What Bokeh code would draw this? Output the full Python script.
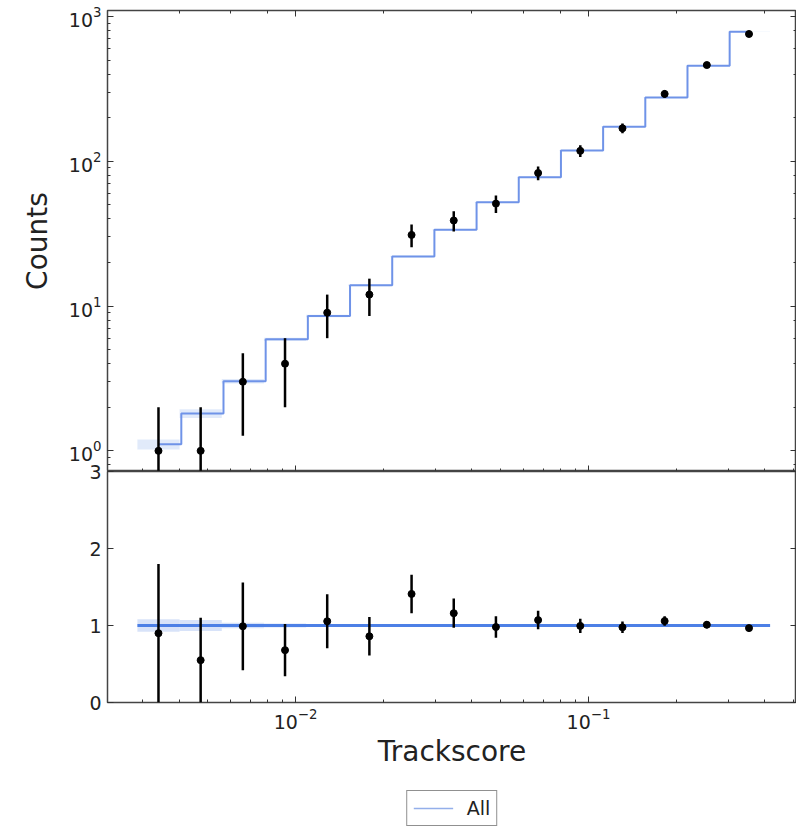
import numpy as np
from bokeh.plotting import figure
from bokeh.models import Range1d, LogAxis, LinearAxis, FixedTicker, Legend, LegendItem
from bokeh.layouts import column
from bokeh.embed import file_html
from bokeh.resources import INLINE

# ---------------- data ----------------
bin_edges = [0.002884, 0.004018, 0.005598, 0.007798, 0.010864, 0.015136, 0.021086,
             0.029376, 0.040926, 0.057016, 0.079433, 0.11066, 0.15417, 0.21478,
             0.29923, 0.41687]
bin_centers = [0.003404, 0.004742, 0.006607, 0.009204, 0.012823, 0.017865, 0.024889,
               0.034674, 0.048306, 0.067298, 0.093756, 0.13062, 0.18197, 0.25351,
               0.35318]
mc_counts = [1.11, 1.81, 3.03, 5.89, 8.53, 13.9, 22.0, 33.6, 52.1, 77.6, 118.6,
             173.0, 276.0, 457.0, 784.0]
mc_rel_unc = [0.08, 0.07, 0.035, 0.025, 0.02, 0.015, 0.012, 0.01, 0.008, 0.006,
              0.005, 0.004, 0.003, 0.002, 0.002]
data_counts = [1, 1, 3, 4, 9, 12, 31, 39, 51, 83, 118, 169, 292, 462, 757]
data_errors = [1.0, 1.0, 1.73, 2.0, 3.0, 3.46, 5.57, 6.24, 7.14, 9.11, 10.86,
               13.0, 17.09, 21.49, 27.51]
ratio = [0.90, 0.55, 0.99, 0.68, 1.055, 0.86, 1.41, 1.16, 0.98, 1.07, 0.995,
         0.977, 1.058, 1.01, 0.966]
ratio_errors = [0.90, 0.55, 0.57, 0.34, 0.35, 0.25, 0.25, 0.19, 0.14, 0.12, 0.092,
                0.075, 0.062, 0.047, 0.035]
ratio_ticks = [0, 1, 2, 3]
legend_label = "All"
x_label = "Trackscore"
y_label = "Counts"

# ---------------- styles ----------------
FONT = "DejaVu Sans"
STEP_COLOR = "#6f93e8"
RATIO_COLOR = "#4d80e6"
BAND_COLOR = "#a9c2f2"
LEG_COLOR = "#94afea"
SPINE = "#444444"
OVERLAP = 12

shared_x = Range1d(0.00228, 0.513)


def style_axis(ax, labels=True):
    ax.major_tick_in = 6
    ax.major_tick_out = 0
    ax.minor_tick_in = 3
    ax.minor_tick_out = 0
    ax.major_tick_line_color = "#333333"
    ax.minor_tick_line_color = "#333333"
    ax.axis_line_color = None
    ax.major_label_text_font = FONT
    if labels:
        ax.major_label_text_color = "#222222"
        ax.major_label_text_font_size = "19px"
        ax.major_label_standoff = 6
    else:
        ax.major_label_text_color = None
        ax.major_label_text_alpha = 0
        ax.major_label_text_font_size = "1px"
        ax.major_label_standoff = 0
    ax.axis_label_text_font = FONT
    ax.axis_label_text_font_style = "normal"
    ax.axis_label_text_font_size = "28px"
    ax.axis_label_text_color = "#222222"


# ---------------- top panel ----------------
p1 = figure(frame_width=689, frame_height=461, x_axis_type="log", y_axis_type="log",
            x_range=shared_x, y_range=Range1d(0.72, 1100),
            output_backend="svg", toolbar_location=None,
            min_border_left=107, min_border_right=0, min_border_top=10,
            min_border_bottom=0)
p1.xgrid.visible = False
p1.ygrid.visible = False
p1.outline_line_color = SPINE
p1.outline_line_width = 1.5

style_axis(p1.yaxis[0], labels=True)
p1.yaxis[0].axis_label = y_label
p1.yaxis[0].axis_label_standoff = 12
style_axis(p1.xaxis[0], labels=False)
ax_r = LogAxis()
style_axis(ax_r, labels=False)
p1.add_layout(ax_r, "right")
ax_t = LogAxis()
style_axis(ax_t, labels=False)
p1.add_layout(ax_t, "above")

edges = np.array(bin_edges)
mc = np.array(mc_counts)
unc = np.array(mc_rel_unc)

# MC uncertainty band
p1.quad(left=edges[:-1], right=edges[1:], bottom=mc * (1 - unc), top=mc * (1 + unc),
        fill_color=BAND_COLOR, fill_alpha=0.35, line_color=None)

# step line (steps-mid through the bin centres)
c = list(bin_centers)
xs = [c[0]]
ys = [mc_counts[0]]
for i in range(1, len(c)):
    m = 0.5 * (c[i - 1] + c[i])
    xs += [m, m]
    ys += [mc_counts[i - 1], mc_counts[i]]
xs.append(c[-1])
ys.append(mc_counts[-1])
p1.line(xs, ys, line_color=STEP_COLOR, line_width=2)

dc = np.array(data_counts, dtype=float)
de = np.array(data_errors)
p1.segment(x0=bin_centers, x1=bin_centers, y0=np.maximum(dc - de, 1e-3), y1=dc + de,
           line_color="black", line_width=2.5)
p1.scatter(bin_centers, data_counts, size=7, color="black")

# ---------------- ratio panel ----------------
p2 = figure(frame_width=689, frame_height=231, x_axis_type="log",
            x_range=shared_x, y_range=Range1d(0, 3),
            output_backend="svg", toolbar_location=None,
            min_border_left=107, min_border_right=0, min_border_top=OVERLAP,
            min_border_bottom=86)
p2.border_fill_color = None
p2.xgrid.visible = False
p2.ygrid.visible = False
p2.outline_line_color = SPINE
p2.outline_line_width = 1.5
p2.styles = {"margin-top": f"-{OVERLAP}px"}

style_axis(p2.yaxis[0], labels=True)
p2.yaxis[0].ticker = FixedTicker(ticks=ratio_ticks, minor_ticks=[])
style_axis(p2.xaxis[0], labels=True)
p2.xaxis[0].major_label_standoff = 5
p2.xaxis[0].axis_label = x_label
p2.xaxis[0].axis_label_standoff = 3
ax_r2 = LinearAxis(ticker=FixedTicker(ticks=ratio_ticks, minor_ticks=[]))
style_axis(ax_r2, labels=False)
p2.add_layout(ax_r2, "right")

p2.quad(left=edges[:-1], right=edges[1:], bottom=1 - unc, top=1 + unc,
        fill_color=BAND_COLOR, fill_alpha=0.45, line_color=None)
p2.line([bin_edges[0], bin_edges[-1]], [1, 1], line_color=RATIO_COLOR, line_width=3)

r = np.array(ratio)
re = np.array(ratio_errors)
p2.segment(x0=bin_centers, x1=bin_centers, y0=r - re, y1=r + re,
           line_color="black", line_width=2.5)
p2.scatter(bin_centers, ratio, size=7, color="black")

# ---------------- legend strip ----------------
p3 = figure(frame_width=689, frame_height=40, x_range=Range1d(0, 1),
            y_range=Range1d(0, 1), x_axis_location=None, y_axis_location=None,
            output_backend="svg", toolbar_location=None,
            min_border_left=107, min_border_right=0, min_border_top=0,
            min_border_bottom=0)
p3.xgrid.visible = False
p3.ygrid.visible = False
p3.outline_line_color = None
dummy = p3.line([0], [-10], line_color=LEG_COLOR, line_width=1.5)
legend = Legend(items=[LegendItem(label=legend_label, renderers=[dummy])],
                location="top_center", orientation="horizontal",
                border_line_color="#222222", border_line_width=1,
                background_fill_color="white", background_fill_alpha=1,
                label_text_font=FONT, label_text_font_size="19px",
                label_text_color="#222222",
                glyph_width=40, glyph_height=20, padding=6, margin=2,
                label_standoff=14)
p3.add_layout(legend)

layout = column(p1, p2, p3, spacing=0)

with open("out.html", "w") as f:
    f.write(file_html(layout, INLINE))
